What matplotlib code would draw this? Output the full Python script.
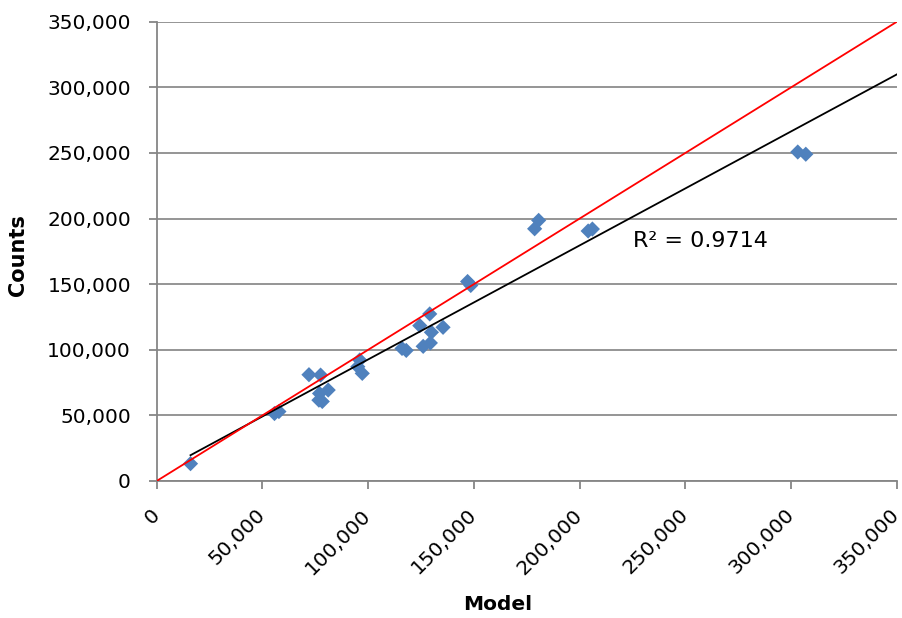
import numpy as np
import matplotlib.pyplot as plt
import matplotlib.transforms as mtransforms
from matplotlib.ticker import FuncFormatter

model = [16000, 55700, 57800, 72000, 77500, 77000, 81100, 76700, 78300,
         96000, 95100, 97200, 116000, 118000, 129100, 124400, 129900,
         135400, 126000, 129400, 147000, 148500, 180600, 178700,
         204000, 206000, 303100, 306900]
counts = [13200, 51400, 52900, 81000, 80700, 66700, 69300, 61600, 60600,
          92200, 87100, 82000, 101000, 99500, 127300, 118400, 113300,
          117100, 102600, 105200, 152000, 149000, 198600, 192200,
          190500, 192000, 250700, 249000]

ticks = [0, 50000, 100000, 150000, 200000, 250000, 300000, 350000]

plt.rcParams['font.family'] = ['DejaVu Sans']

fig = plt.figure(figsize=(9.03, 6.18), dpi=100)
ax = fig.add_axes([0.1735, 0.2217, 0.8198, 0.7432])

x = np.array(model, dtype=float)
y = np.array(counts, dtype=float)
slope, icpt = np.polyfit(x, y, 1)

ax.scatter(x, y, marker='D', s=60, color='#4F81BD', edgecolors='none', zorder=3)

xf = np.array([x.min(), 350000])
ax.plot(xf, slope * xf + icpt, color='black', lw=1.3, zorder=4)
ax.plot([0, 350000], [0, 350000], color='red', lw=1.3, zorder=5)

ax.text(225000, 183000, "R\u00b2 = %.4f" % 0.9714, fontsize=16, va='center', ha='left')

ax.set_xlim(0, 350000)
ax.set_ylim(0, 350000)
ax.set_xticks(ticks)
ax.set_yticks(ticks)
fmt = FuncFormatter(lambda v, p: f"{int(v):,}")
ax.xaxis.set_major_formatter(fmt)
ax.yaxis.set_major_formatter(fmt)
ax.tick_params(labelsize=14.5, color='#868686', length=5.5, width=1.3)
ax.tick_params(axis='y', pad=13)
ax.tick_params(axis='x', pad=12)
shift = mtransforms.ScaledTranslation(-7 / 100, 0, fig.dpi_scale_trans)
for lab in ax.get_xticklabels():
    lab.set_rotation(45)
    lab.set_ha('right')
    lab.set_rotation_mode('anchor')
    lab.set_transform(lab.get_transform() + shift)

ax.grid(axis='y', color='#8C8C8C', lw=1.3)
ax.set_axisbelow(True)
for s in ['top', 'right']:
    ax.spines[s].set_visible(False)
for s in ['left', 'bottom']:
    ax.spines[s].set_color('#868686')
    ax.spines[s].set_linewidth(1.3)

ax.set_xlabel("Model", fontsize=14.5, fontweight='bold', va='center')
ax.xaxis.set_label_coords(0.46, -0.268)
ax.set_ylabel("Counts", fontsize=15, fontweight='bold', va='center')
ax.yaxis.set_label_coords(-0.187, 0.492)

fig.savefig("out.png", dpi=100)
